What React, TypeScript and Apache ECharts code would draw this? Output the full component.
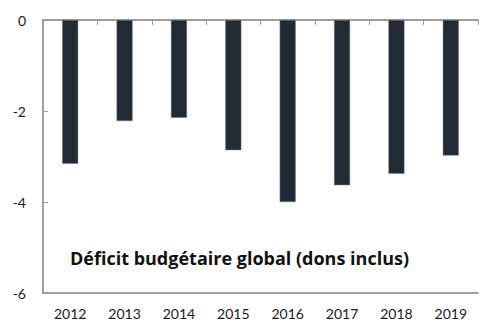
import React, { useEffect, useRef } from "react";
import * as echarts from "echarts";

const categories = ["2012", "2013", "2014", "2015", "2016", "2017", "2018", "2019"];
const deficit = [-3.16, -2.22, -2.15, -2.86, -4.0, -3.63, -3.38, -2.98];
const yTicks = { min: -6, max: 0, interval: 2 };
const annotation = "Déficit budgétaire global (dons inclus)";

const FONT = "Lato, 'Open Sans', sans-serif";

export default function App() {
  const ref = useRef<HTMLDivElement>(null);
  useEffect(() => {
    if (!ref.current) return;
    const chart = echarts.init(ref.current, undefined, { renderer: "svg" });
    chart.setOption({
      animation: false,
      grid: { left: 43, right: 1, top: 20, bottom: 29, containLabel: false },
      xAxis: [
        {
          type: "category",
          data: categories,
          position: "bottom",
          axisLine: { show: true, onZero: false, lineStyle: { color: "#7f7f7f", width: 1.5 } },
          axisTick: { show: false },
          axisLabel: { color: "#1a1a1a", fontSize: 14, fontFamily: FONT, margin: 13 },
        },
        {
          type: "category",
          data: categories,
          position: "top",
          axisLine: { show: true, onZero: false, lineStyle: { color: "#7f7f7f", width: 1.5 } },
          axisTick: { show: true, inside: true, length: 5, lineStyle: { color: "#9a9a9a" } },
          axisLabel: { show: false },
        },
      ],
      yAxis: {
        type: "value",
        min: yTicks.min,
        max: yTicks.max,
        interval: yTicks.interval,
        axisLine: { show: true, lineStyle: { color: "#7f7f7f", width: 1.5 } },
        axisTick: { show: true, inside: true, length: 5, lineStyle: { color: "#9a9a9a" } },
        splitLine: { show: false },
        axisLabel: { color: "#1a1a1a", fontSize: 14, fontFamily: FONT, margin: 17 },
      },
      series: [
        {
          type: "bar",
          xAxisIndex: 0,
          data: deficit,
          barWidth: 16,
          itemStyle: { color: "#232a35", borderColor: "#6f7680", borderWidth: 0.5 },
        },
      ],
      graphic: [
        {
          type: "text",
          left: 70,
          top: 249,
          style: {
            text: annotation,
            fontSize: 18,
            fontWeight: "bold",
            fontFamily: "'Open Sans', sans-serif",
            fill: "#111",
          },
        },
      ],
    });
    return () => chart.dispose();
  }, []);
  return <div ref={ref} style={{ width: 479, height: 322, position: "absolute", left: 0, top: 0 }} />;
}
